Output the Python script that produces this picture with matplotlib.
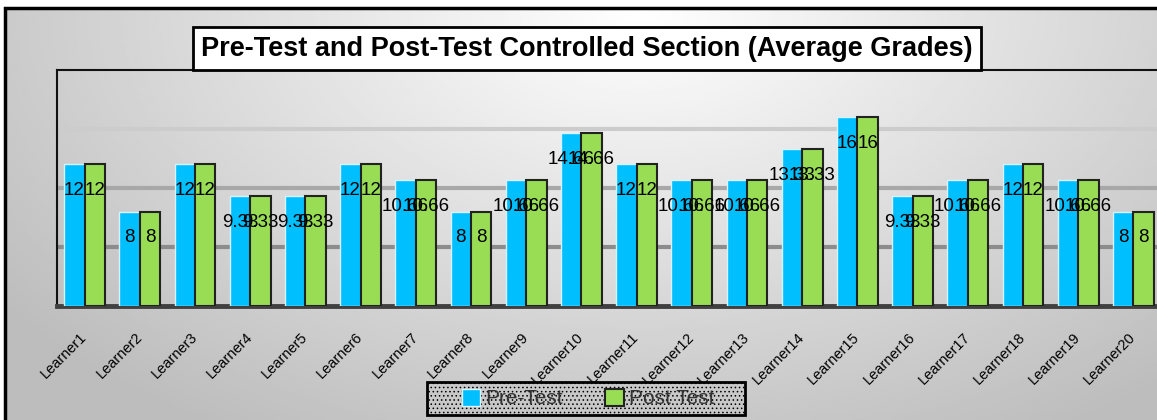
import numpy as np
import matplotlib.pyplot as plt
from matplotlib.patches import Rectangle

learners = ['Learner%d' % i for i in range(1, 21)]
pre_test = [12, 8, 12, 9.33, 9.33, 12, 10.66, 8, 10.66, 14.66,
            12, 10.66, 10.66, 13.33, 16, 9.33, 10.66, 12, 10.66, 8]
post_test = [12, 8, 12, 9.33, 9.33, 12, 10.66, 8, 10.66, 14.66,
             12, 10.66, 10.66, 13.33, 16, 9.33, 10.66, 12, 10.66, 8]

plt.rcParams['font.family'] = ['Liberation Sans', 'DejaVu Sans']
plt.rcParams['hatch.linewidth'] = 0.6

W, H = 1157, 420
fig = plt.figure(figsize=(W / 100, H / 100), dpi=100)

# gray gradient background inside the outer frame
bg = fig.add_axes([5 / W, 0, 1 - 5 / W, 1 - 8 / H], zorder=-10)
gx, gy = np.meshgrid(np.linspace(0, 1, 400), np.linspace(0, 1, 200))
d = np.sqrt(((gx - 0.55) / 0.75) ** 2 + ((gy - 0.0) / 1.3) ** 2)
shade = np.clip(1.0 - 0.28 * d, 0.74, 1.0)
bg.imshow(shade, cmap='gray', vmin=0, vmax=1, aspect='auto',
          extent=[0, 1, 1, 0], interpolation='bilinear')
bg.axis('off')

fig.patches.append(Rectangle((5 / W, -0.1), 1.2, 1.1 - 8 / H,
                             transform=fig.transFigure, fill=False,
                             edgecolor='black', linewidth=2.5))

ax = fig.add_axes([57 / W, 1 - 306 / H, 1104 / W, 236 / H])
ax.set_facecolor('none')

x = np.arange(len(learners))
w = 0.37
b1 = ax.bar(x - w / 2, pre_test, w, color='#00bfff', edgecolor='#d8f2ff',
            linewidth=1, zorder=3, label='Pre-Test')
b2 = ax.bar(x + w / 2, post_test, w, color='#99dd55', edgecolor='#222222',
            linewidth=1.5, zorder=3, label='Post Test')

for bars, vals in ((b1, pre_test), (b2, post_test)):
    for r, v in zip(bars, vals):
        ax.annotate('%g' % v, (r.get_x() + r.get_width() / 2, v),
                    xytext=(0, -19), textcoords='offset points',
                    ha='center', va='center', fontsize=13.5, zorder=5)

ax.set_xlim(-0.5, len(learners) - 0.5)
ax.set_ylim(0, 20)
ax.set_yticks([5, 10, 15])
ax.yaxis.grid(True, linewidth=3, zorder=0)
for gl, c in zip(ax.get_ygridlines(), ['#8c8c8c', '#a8a8a8', '#cccccc']):
    gl.set_color(c)
ax.tick_params(axis='y', left=False, labelleft=False)
ax.tick_params(axis='x', length=0, pad=21)
ax.set_xticks(x)
ax.set_xticklabels(learners, rotation=45, ha='right', va='center',
                   rotation_mode='anchor', fontsize=10.5)

for s in ['left', 'top']:
    ax.spines[s].set_color('#111111')
    ax.spines[s].set_linewidth(1.5)
ax.spines['right'].set_visible(False)
ax.spines['bottom'].set_color('#404040')
ax.spines['bottom'].set_linewidth(3.5)

fig.text(587 / W, 1 - 48.5 / H,
         'Pre-Test and Post-Test Controlled Section (Average Grades)',
         ha='center', va='center', fontsize=19.5, fontweight='bold',
         bbox=dict(boxstyle='square,pad=0.3', facecolor='white',
                   edgecolor='black', linewidth=2))

# hatched legend box
fig.patches.append(Rectangle((427 / W, 1 - 415 / H), 318 / W, 33 / H,
                             transform=fig.transFigure, facecolor='#c8c8c8',
                             edgecolor='black', linewidth=2, hatch='....',
                             zorder=4))
leg = fig.legend(handles=[b1, b2], loc='center',
                 bbox_to_anchor=(588 / W, 1 - 398.5 / H), ncol=2,
                 fontsize=15, frameon=False,
                 handlelength=0.9, handleheight=0.9, handletextpad=0.25,
                 columnspacing=2.0, borderpad=0.2)
leg.set_zorder(5)
for t in leg.get_texts():
    t.set_color('#333333')

fig.savefig('out.png', dpi=100)
